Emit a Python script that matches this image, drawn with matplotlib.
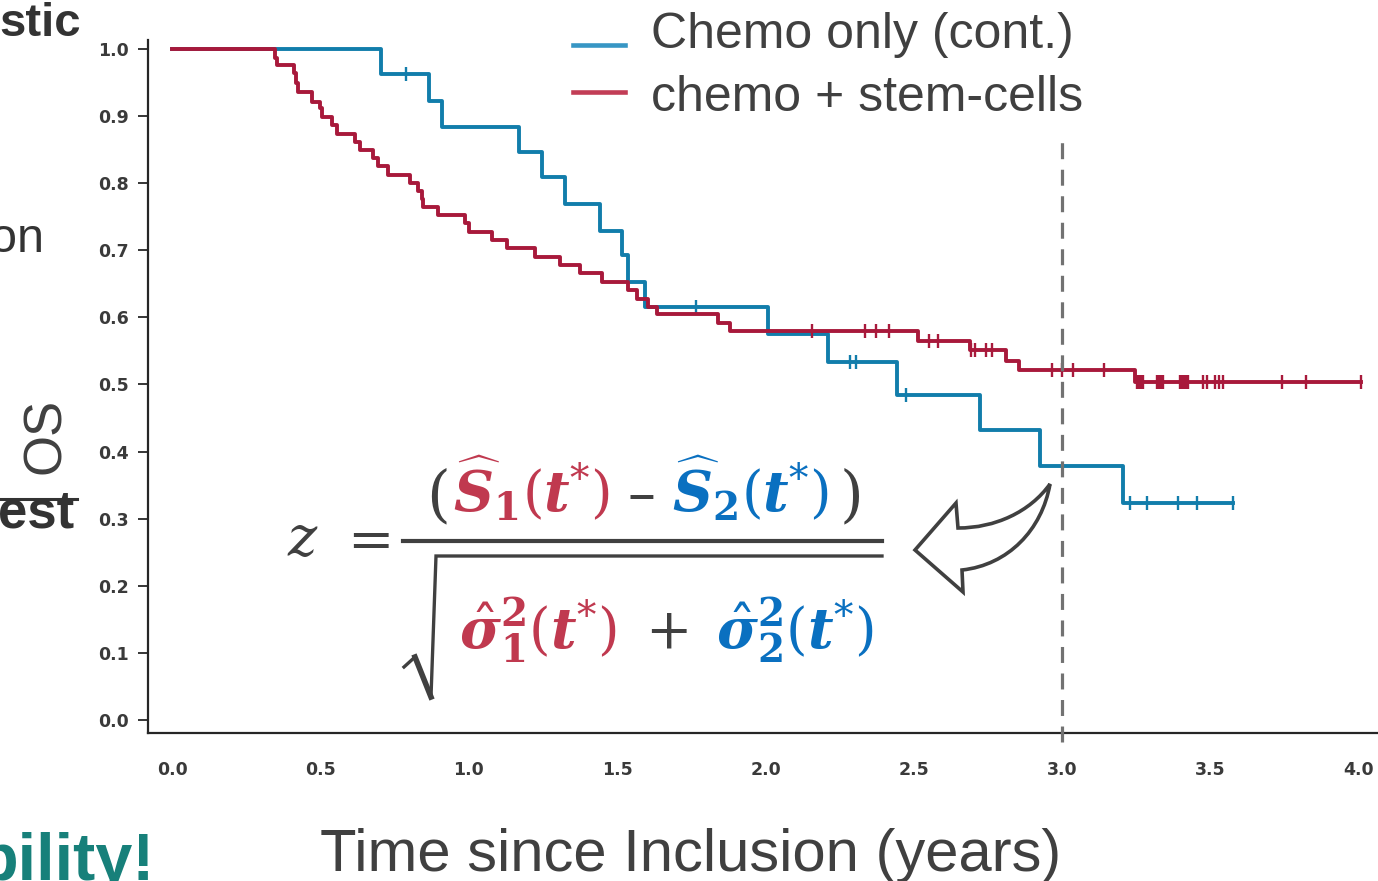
import numpy as np
import matplotlib
matplotlib.use("Agg")
import matplotlib.pyplot as plt
from matplotlib.transforms import Affine2D
from matplotlib.path import Path
from matplotlib.patches import PathPatch
from matplotlib.lines import Line2D

# ---------------- data ----------------
# chemo + stem-cells (red): event times (years) and survival after each event
red_event_t = [0.347, 0.355, 0.412, 0.418, 0.424, 0.471, 0.499, 0.504, 0.538, 0.555,
               0.617, 0.634, 0.678, 0.695, 0.729, 0.802, 0.830, 0.841, 0.847, 0.897,
               0.987, 1.002, 1.077, 1.130, 1.223, 1.307, 1.375, 1.448, 1.536, 1.566,
               1.605, 1.633, 1.841, 1.880, 2.515, 2.689, 2.810, 2.855, 3.245]
red_event_s = [0.986, 0.976, 0.964, 0.949, 0.936, 0.921, 0.912, 0.899, 0.887, 0.874,
               0.862, 0.849, 0.837, 0.825, 0.812, 0.800, 0.788, 0.777, 0.765, 0.753,
               0.740, 0.728, 0.715, 0.703, 0.690, 0.678, 0.666, 0.653, 0.641, 0.628,
               0.616, 0.605, 0.592, 0.580, 0.565, 0.551, 0.535, 0.521, 0.504]
red_censor_t = [2.156, 2.336, 2.373, 2.416, 2.551, 2.582, 2.693, 2.705, 2.742, 2.762,
                2.967, 2.998, 3.035, 3.140, 3.252, 3.258, 3.265, 3.272, 3.318, 3.325,
                3.332, 3.339, 3.396, 3.403, 3.410, 3.417, 3.424, 3.473, 3.489, 3.515,
                3.529, 3.541, 3.739, 3.821, 4.006]
red_end_t = 4.006

# chemo only (blue)
blue_event_t = [0.704, 0.867, 0.909, 1.169, 1.246, 1.324, 1.442, 1.515, 1.536, 1.594,
                2.007, 2.209, 2.442, 2.723, 2.925, 3.206]
blue_event_s = [0.963, 0.922, 0.884, 0.847, 0.809, 0.769, 0.729, 0.693, 0.653, 0.616,
                0.575, 0.533, 0.485, 0.432, 0.378, 0.324]
blue_censor_t = [0.788, 1.766, 2.285, 2.304, 2.472, 3.228, 3.285, 3.389, 3.453, 3.577]
blue_end_t = 3.577

x_ticks = [0.0, 0.5, 1.0, 1.5, 2.0, 2.5, 3.0, 3.5, 4.0]
y_ticks = [0.0, 0.1, 0.2, 0.3, 0.4, 0.5, 0.6, 0.7, 0.8, 0.9, 1.0]
landmark_t = 3.0

legend_labels = ["Chemo only (cont.)", "chemo + stem-cells"]
x_label = "Time since Inclusion (years)"
y_label = "OS"

BLUE = "#127dab"
RED = "#a8193b"
BLUE_LEG = "#3796c4"
RED_LEG = "#c23d56"
F_RED = "#c0394f"
F_BLUE = "#0a70c0"
DARK = "#404040"

plt.rcParams["mathtext.fontset"] = "custom"
plt.rcParams["mathtext.rm"] = "DejaVu Serif"
plt.rcParams["mathtext.it"] = "DejaVu Serif:italic"
plt.rcParams["mathtext.bf"] = "DejaVu Serif:italic:bold"
plt.rcParams["mathtext.sf"] = "DejaVu Serif:bold"


def km_steps(times, surv, end):
    t = np.concatenate([[0.0], times, [end]])
    s = np.concatenate([[1.0], surv, [surv[-1]]])
    return t, s


def km_at(times, surv, q):
    vals = np.concatenate([[1.0], surv])
    return vals[np.searchsorted(times, q, side="right")]


W, H = 1378, 881
fig = plt.figure(figsize=(W / 100, H / 100), dpi=100)
fig.patch.set_facecolor("white")
# pixel coordinates with origin at the top-left corner
px = Affine2D().scale(1 / W, -1 / H).translate(0, 1) + fig.transFigure

ax = fig.add_axes([148 / W, 1 - 733 / H, (W - 148) / W, (733 - 40) / H])
ax.set_xlim(-0.081, 4.064)
ax.set_ylim(-0.0194, 1.0134)

bt, bs = km_steps(blue_event_t, blue_event_s, blue_end_t)
rt, rs = km_steps(red_event_t, red_event_s, red_end_t)
ax.step(bt, bs, where="post", color=BLUE, lw=2.8, zorder=3)
ax.step(rt, rs, where="post", color=RED, lw=2.8, zorder=4)
ax.plot(blue_censor_t, km_at(blue_event_t, blue_event_s, blue_censor_t), ls="none",
        marker="|", ms=10, mew=1.7, color=BLUE, zorder=3)
ax.plot(red_censor_t, km_at(red_event_t, red_event_s, red_censor_t), ls="none",
        marker="|", ms=10, mew=1.7, color=RED, zorder=4)
ax.plot([landmark_t, landmark_t], [-0.033, 0.867], color="#727272", lw=2.3,
        dashes=(5, 3.3), clip_on=False, zorder=6)

for side in ("top", "right"):
    ax.spines[side].set_visible(False)
for side in ("left", "bottom"):
    ax.spines[side].set_color("#262626")
    ax.spines[side].set_linewidth(1.6)
ax.set_xticks(x_ticks)
ax.set_xticklabels([f"{v:.1f}" for v in x_ticks])
ax.set_yticks(y_ticks)
ax.set_yticklabels([f"{v:.1f}" for v in y_ticks])
ax.tick_params(axis="both", colors="#262626", labelcolor="#3a3a3a", width=1.3)
ax.tick_params(axis="y", length=7, pad=7)
ax.tick_params(axis="x", length=0, pad=20)
for lab in ax.get_xticklabels() + ax.get_yticklabels():
    lab.set_fontfamily("DejaVu Sans")
    lab.set_fontweight("bold")
    lab.set_fontsize(12.5)

# axis titles
fig.text(691, 871, x_label, transform=px, ha="center", va="baseline",
         fontsize=43, family="Liberation Sans", color=DARK)
fig.text(46, 436, y_label, transform=px, ha="center", va="center", rotation=90,
         fontsize=38, family="Liberation Sans", color=DARK)

# legend
leg_rows = [(BLUE_LEG, 45, 48), (RED_LEG, 92, 111)]
for (col, ly, by), lab in zip(leg_rows, legend_labels):
    fig.add_artist(Line2D([573, 625], [ly, ly], transform=px, color=col, lw=3.3))
    fig.text(651, by, lab, transform=px, ha="left", va="baseline", fontsize=36,
             family="Liberation Sans", color=DARK)

# neighbouring slide text
fig.text(-1, 36, "stic", transform=px, ha="left", va="baseline", fontsize=34,
         fontweight="bold", family="Liberation Sans", color="#333333")
fig.text(-10, 252, "on", transform=px, ha="left", va="baseline", fontsize=35,
         family="Liberation Sans", color="#333333")
fig.text(-2, 527, "est", transform=px, ha="left", va="baseline", fontsize=38,
         fontweight="bold", family="Liberation Sans", color="#333333")
fig.add_artist(Line2D([0, 77], [499, 499], transform=px, color="#333333", lw=2.2))
fig.text(-22, 880, "bility!", transform=px, ha="left", va="baseline", fontsize=48,
         fontweight="bold", family="Liberation Sans", color="#17807a")

# z statistic at the landmark time
fs = 40
fig.text(303, 556, r"$z$", transform=px, ha="center", va="baseline", fontsize=fs, color=DARK)
fig.text(364, 556, r"$=$", transform=px, ha="center", va="baseline", fontsize=fs, color=DARK)
fig.text(438, 514, "(", transform=px, ha="center", va="baseline", fontsize=fs + 4,
         family="DejaVu Serif", color=DARK)
fig.text(531, 512, r"$\widehat{\mathbf{S}}_{\mathsf{1}}(\mathbf{t}^{*})$", transform=px,
         ha="center", va="baseline", fontsize=fs, color=F_RED)
fig.text(641, 512, "\u2013", transform=px, ha="center", va="baseline", fontsize=fs,
         family="DejaVu Serif", color=DARK)
fig.text(750, 512, r"$\widehat{\mathbf{S}}_{\mathsf{2}}(\mathbf{t}^{*})$", transform=px,
         ha="center", va="baseline", fontsize=fs, color=F_BLUE)
fig.text(852, 514, ")", transform=px, ha="center", va="baseline", fontsize=fs + 4,
         family="DejaVu Serif", color=DARK)
fig.add_artist(Line2D([403, 882], [541, 541], transform=px, color=DARK, lw=3.0))
fig.add_artist(Line2D([404, 415, 431, 436, 882], [667, 657, 697, 556, 556],
                      transform=px, color=DARK, lw=2.4, solid_joinstyle="miter"))
fig.add_artist(Line2D([415, 431], [657, 697], transform=px, color=DARK, lw=4.0))
fig.text(538, 648, r"$\hat{\mathbf{\sigma}}^{\mathsf{2}}_{\mathsf{1}}(\mathbf{t}^{*})$",
         transform=px, ha="center", va="baseline", fontsize=fs, color=F_RED)
fig.text(668, 648, "+", transform=px, ha="center", va="baseline", fontsize=fs,
         family="DejaVu Serif", color=DARK)
fig.text(795, 648, r"$\hat{\mathbf{\sigma}}^{\mathsf{2}}_{\mathsf{2}}(\mathbf{t}^{*})$",
         transform=px, ha="center", va="baseline", fontsize=fs, color=F_BLUE)

# curved hollow arrow pointing at the formula
verts = [(915, 550), (956, 503), (958, 528),
         (995, 528), (1030, 512), (1050, 484),
         (1042, 530), (1008, 565), (962, 570),
         (963, 592), (915, 550)]
codes = [Path.MOVETO, Path.LINETO, Path.LINETO,
         Path.CURVE4, Path.CURVE4, Path.CURVE4,
         Path.CURVE4, Path.CURVE4, Path.CURVE4,
         Path.LINETO, Path.CLOSEPOLY]
arrow = PathPatch(Path(verts, codes), transform=px, facecolor="white", edgecolor=DARK,
                  lw=2.6, joinstyle="miter", zorder=7)
fig.add_artist(arrow)

fig.savefig("out.png", dpi=100)
